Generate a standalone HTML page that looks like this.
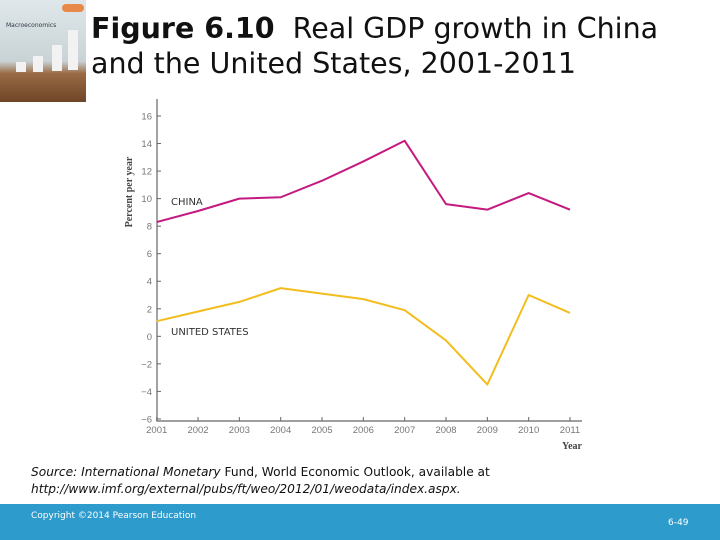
<!DOCTYPE html>
<html><head><meta charset="utf-8"><style>
body{margin:0;width:720px;height:540px;overflow:hidden;background:#fff;font-family:"DejaVu Sans","Liberation Sans",sans-serif;position:relative}
.t{position:absolute;left:91px;font-size:28.5px;color:#111;line-height:35px;white-space:nowrap}
</style></head><body>
<div style="position:absolute;left:0;top:0;width:86px;height:102px;background:linear-gradient(#dfe7ea 0%,#c9d3d6 60%,#9a6b45 72%,#6e4526 100%)">
<div style="position:absolute;left:6px;top:22px;font-size:6px;color:#334">Macroeconomics</div>
<div style="position:absolute;left:68px;top:30px;width:10px;height:40px;background:#f2f2f2"></div>
<div style="position:absolute;left:52px;top:45px;width:10px;height:26px;background:#f2f2f2"></div>
<div style="position:absolute;left:33px;top:56px;width:10px;height:16px;background:#f2f2f2"></div>
<div style="position:absolute;left:16px;top:62px;width:10px;height:10px;background:#f2f2f2"></div>
<div style="position:absolute;left:62px;top:4px;width:22px;height:8px;background:#e8894a;border-radius:4px"></div>
</div>
<div class="t" style="top:11px"><b>Figure 6.10</b>&nbsp; Real GDP growth in China</div>
<div class="t" style="top:46px">and the United States, 2001-2011</div>
<svg id="c" width="720" height="540" style="position:absolute;left:0;top:0"></svg>
<div style="position:absolute;left:31px;top:464px;font-size:12.2px;line-height:17px;color:#111"><i>Source: International Monetary</i> Fund, World Economic Outlook, available at<br><i>http://www.imf.org/external/pubs/ft/weo/2012/01/weodata/index.aspx.</i></div>
<div style="position:absolute;left:0;top:504px;width:720px;height:36px;background:#2e9bcd;color:#fff;font-size:9px">
<span style="position:absolute;left:31px;top:7px">Copyright ©2014 Pearson Education</span>
<span style="position:absolute;left:668px;top:14px">6-49</span></div>
<script>
const years=[2001,2002,2003,2004,2005,2006,2007,2008,2009,2010,2011];
const china=[8.3,9.1,10.0,10.1,11.3,12.7,14.2,9.6,9.2,10.4,9.2];
const us=[1.1,1.8,2.5,3.5,3.1,2.7,1.9,-0.3,-3.5,3.0,1.7];
const yTicks=[16,14,12,10,8,6,4,2,0,-2,-4,-6];
const NS='http://www.w3.org/2000/svg';
const svg=document.getElementById('c');
const x=v=>156.7+(v-2001)*41.33;
const y=v=>116+(16-v)*13.77;
function mk(t,a,p){const e=document.createElementNS(NS,t);for(const k in a)e.setAttribute(k,a[k]);(p||svg).appendChild(e);return e;}
const ax=mk('path',{d:`M157 99V421H582`,stroke:'#666','stroke-width':1.2,fill:'none'});


yTicks.forEach(v=>{
 const tk=mk('line',{x1:157,x2:161,y1:y(v),y2:y(v),stroke:'#666'});
 
 
 const t=mk('text',{x:152,y:y(v)+3.5,'text-anchor':'end','font-size':9.5,fill:'#777','font-family':'Liberation Sans,sans-serif'});
 t.textContent=v<0?'\u2212'+(-v):v;
 
 
});
years.forEach(v=>{
 const tk=mk('line',{x1:x(v),x2:x(v),y1:417,y2:421,stroke:'#666'});
 
 
 const t=mk('text',{x:x(v),y:433,'text-anchor':'middle','font-size':9.5,fill:'#777','font-family':'Liberation Sans,sans-serif'});
 t.textContent=v;
 
 
});
const yl=mk('text',{transform:'translate(132,192) rotate(-90)','text-anchor':'middle','font-size':10,'font-weight':'bold',fill:'#444','font-family':'Liberation Serif,serif'});
yl.textContent='Percent per year';


const xl=mk('text',{x:582,y:449,'text-anchor':'end','font-size':10,'font-weight':'bold',fill:'#444','font-family':'Liberation Serif,serif'});
xl.textContent='Year';


function line(d,c,n){
 const p=mk('polyline',{points:d.map((v,i)=>x(years[i])+','+y(v)).join(' '),fill:'none',stroke:c,'stroke-width':2,'stroke-linejoin':'round'});
 
 
}
line(china,'#c4197f','china-line');
line(us,'#f2bd1d','us-line');
const l1=mk('text',{x:171,y:205,'font-size':10,fill:'#333','font-family':'DejaVu Sans,sans-serif'});
l1.textContent='CHINA';


const l2=mk('text',{x:171,y:335,'font-size':10,fill:'#333','font-family':'DejaVu Sans,sans-serif'});
l2.textContent='UNITED STATES';


</script>
</body></html>
